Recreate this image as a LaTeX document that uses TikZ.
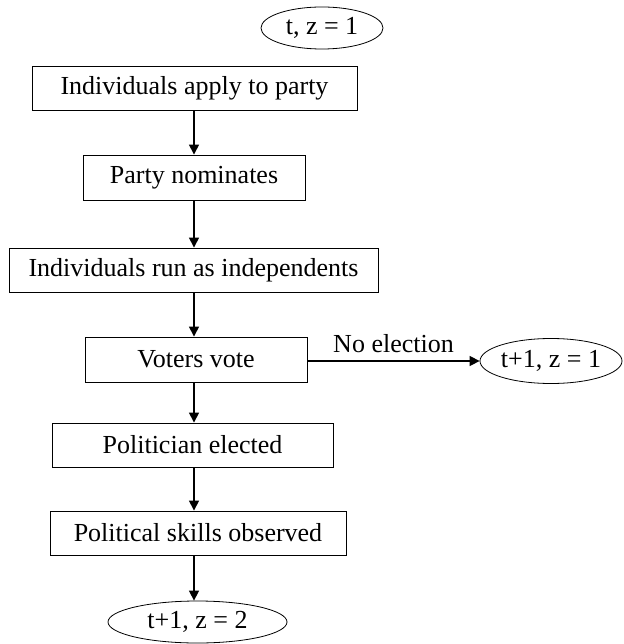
\documentclass[tikz,border=0pt]{standalone}
\usepackage{fontspec}
\setmainfont{Liberation Serif}
\usetikzlibrary{arrows.meta,shapes.geometric}
\tikzset{
  stepbox/.style={draw=black, line width=0.9pt, rectangle, inner sep=0pt,
    minimum height=44pt, font=\fontsize{26}{30}\selectfont},
  oval/.style={draw=black, line width=0.8pt, ellipse, inner sep=0pt,
    minimum height=42pt, font=\fontsize{26}{30}\selectfont},
  flow/.style={line width=1.5pt, -{Triangle[length=10pt,width=10pt]}},
  lbl/.style={font=\fontsize{26}{30}\selectfont, inner sep=0pt}
}
\begin{document}
\begin{tikzpicture}[x=1pt,y=-1pt]
\useasboundingbox (0,0) rectangle (623,644);
\coordinate (ax) at (194,0);
\node[oval, minimum width=122pt] (start) at (322,28) {t, z = 1};
\node[stepbox, minimum width=325pt] (b1) at (194.5,88) {Individuals apply to party};
\node[stepbox, minimum width=222pt, minimum height=45pt] (b2) at (194,177.5) {Party nominates};
\node[stepbox, minimum width=369pt] (b3) at (193.5,270) {Individuals run as independents};
\node[stepbox, minimum width=222pt, minimum height=45pt] (b4) at (196,359.5) {Voters vote};
\node[stepbox, minimum width=281pt] (b5) at (192.5,445) {Politician elected};
\node[stepbox, minimum width=296pt] (b6) at (198,533) {Political skills observed};
\node[oval, minimum width=142pt, minimum height=45pt] (noel) at (551,361) {t+1, z = 1};
\node[oval, minimum width=179pt] (endn) at (197.5,622) {t+1, z = 2};
\draw[flow] (b1.south -| ax) -- (b2.north -| ax);
\draw[flow] (b2.south -| ax) -- (b3.north -| ax);
\draw[flow] (b3.south -| ax) -- (b4.north -| ax);
\draw[flow] (b4.south -| ax) -- (b5.north -| ax);
\draw[flow] (b5.south -| ax) -- (b6.north -| ax);
\draw[flow] (b6.south -| ax) -- (endn.north -| ax);
\draw[flow] (b4.east |- noel.west) -- (noel.west) node[lbl, midway, above=7pt] {No election};
\end{tikzpicture}
\end{document}
